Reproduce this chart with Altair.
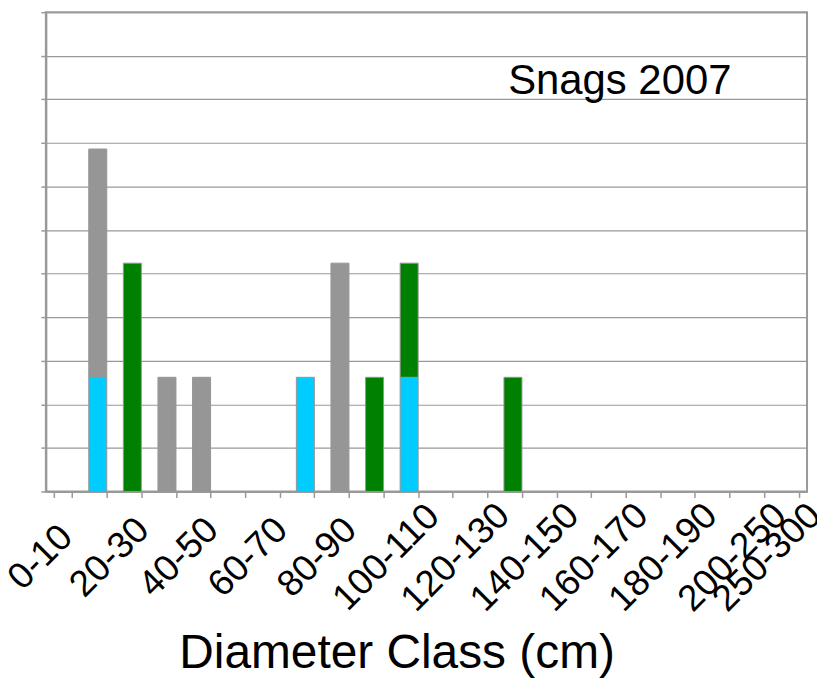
import json
import altair as alt
import pandas as pd

categories = ["0-10", "10-20", "20-30", "30-40", "40-50", "50-60", "60-70",
              "70-80", "80-90", "90-100", "100-110", "110-120", "120-130",
              "130-140", "140-150", "150-160", "160-170", "170-180",
              "180-190", "190-200", "200-250", "250-300"]
shown_labels = ["0-10", "20-30", "40-50", "60-70", "80-90", "100-110",
                "120-130", "140-150", "160-170", "180-190", "200-250", "250-300"]
series_names = ["Series A", "Series B", "Series C"]
series_colors = ["#00CCFF", "#969696", "#008000"]
cyan_vals = [0, 2.62, 0, 0, 0, 0, 0, 2.62, 0, 0, 2.62, 0, 0, 0, 0, 0, 0, 0, 0, 0, 0, 0]
gray_vals = [0, 5.24, 0, 2.62, 2.62, 0, 0, 0, 5.24, 0, 0, 0, 0, 0, 0, 0, 0, 0, 0, 0, 0, 0]
green_vals = [0, 0, 5.24, 0, 0, 0, 0, 0, 0, 2.62, 2.62, 0, 0, 2.62, 0, 0, 0, 0, 0, 0, 0, 0]
y_ticks = [0, 1, 2, 3, 4, 5, 6, 7, 8, 9, 10, 11]
annotation = ["Snags 2007"]
x_title = "Diameter Class (cm)"

rows = []
for si, (name, vals) in enumerate(zip(series_names, [cyan_vals, gray_vals, green_vals])):
    for c, v in zip(categories, vals):
        rows.append({"cls": c, "series": name, "ord": si, "value": v})
df = pd.DataFrame(rows)

label_expr = "indexof(" + json.dumps(shown_labels) + ", datum.value) >= 0 ? datum.value : ''"
FONT = "Liberation Sans"
GRAY = "#999999"

bars = alt.Chart(df).transform_filter("datum.value > 0").mark_bar(
    stroke="#969696", strokeWidth=1
).encode(
    x=alt.X("cls:N",
            scale=alt.Scale(domain=categories, paddingInner=0.48, paddingOuter=0.24),
            axis=alt.Axis(title=x_title, labelExpr=label_expr, labelAngle=315,
                          labelAlign="center", labelBaseline="middle",
                          labelFontSize=37, labelFont=FONT, labelColor="black",
                          labelPadding=60, labelOffset=-23,
                          labelOverlap=False, labelBound=False,
                          tickBand="extent", tickSize=6, tickColor=GRAY, tickWidth=1.5,
                          domainColor=GRAY, domainWidth=2, grid=False,
                          titleFontSize=48, titleFont=FONT, titleFontWeight="normal",
                          titleColor="black", titleX=352, titleY=177,
                          titleAlign="center", titleBaseline="alphabetic")),
    y=alt.Y("value:Q", stack="zero",
            scale=alt.Scale(domain=[0, 11], nice=False),
            axis=alt.Axis(title=None, labels=False, values=y_ticks, tickSize=5,
                          tickColor=GRAY, tickWidth=1.5, domainColor=GRAY, domainWidth=2,
                          grid=True, gridColor=GRAY, gridWidth=1.2)),
    color=alt.Color("series:N", scale=alt.Scale(domain=series_names, range=series_colors),
                    legend=None),
    order=alt.Order("ord:Q", sort="ascending"),
)

text = alt.Chart(pd.DataFrame({"t": annotation})).mark_text(
    align="left", baseline="alphabetic", fontSize=42, font=FONT, color="black"
).encode(text="t:N", x=alt.value(464), y=alt.value(82))

chart = alt.layer(bars, text).properties(
    width=764, height=481,
    autosize=alt.AutoSizeParams(type="none"),
    padding={"left": 38, "top": 3, "right": 10, "bottom": 187},
).configure_view(stroke=GRAY, strokeWidth=2)

chart.save("out.html", embed_options={"renderer": "svg", "actions": False})
